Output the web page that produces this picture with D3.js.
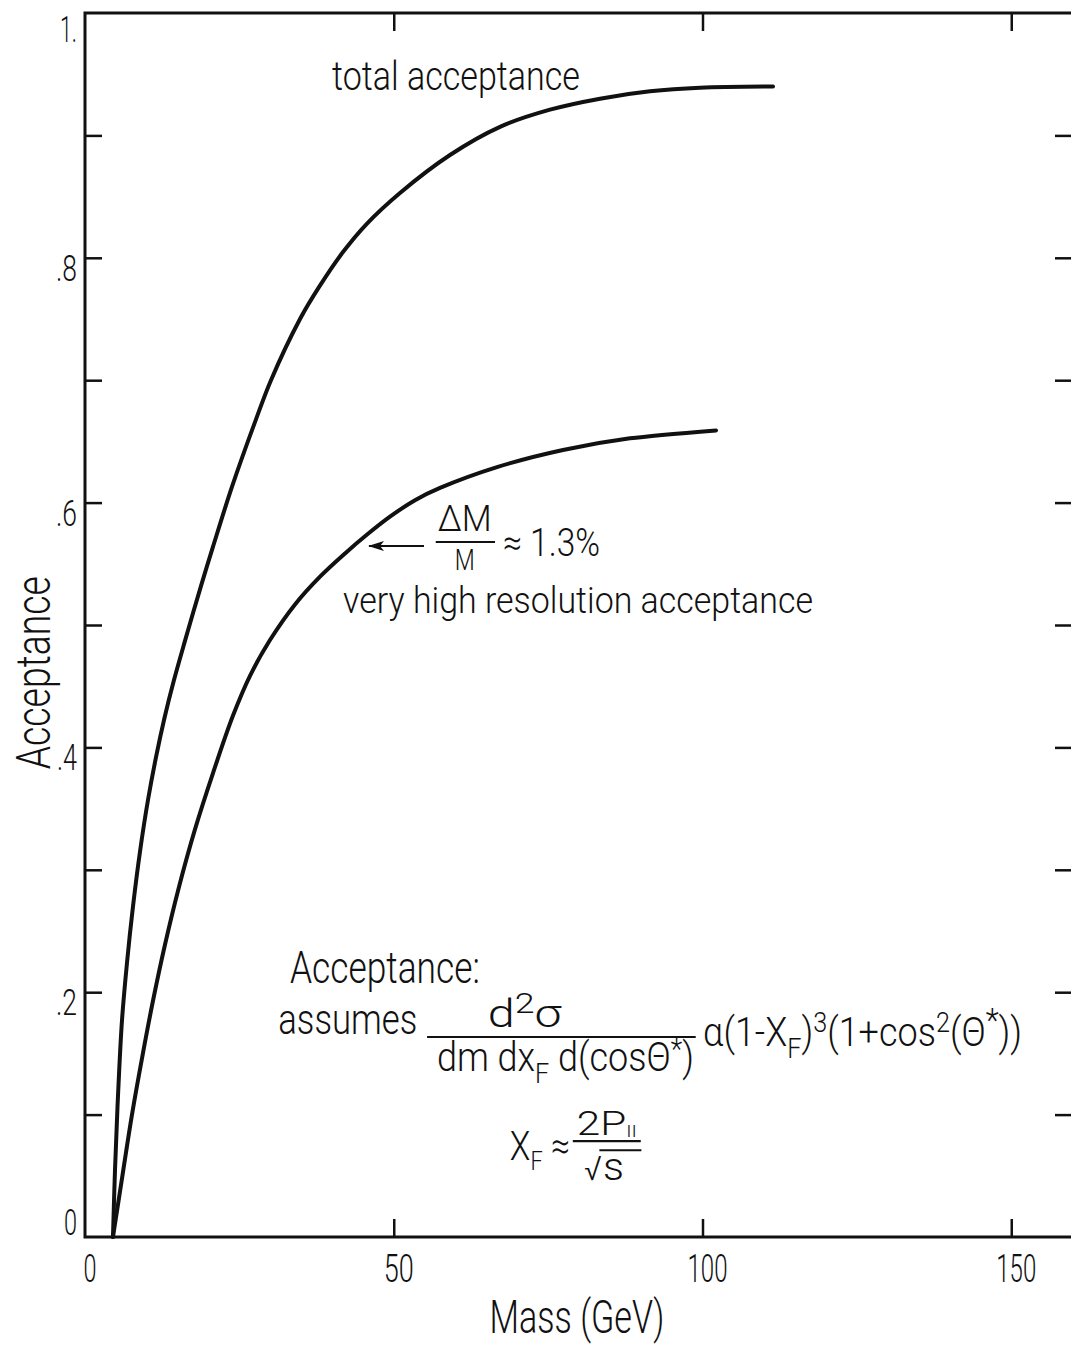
<!DOCTYPE html>
<html>
<head>
<meta charset="utf-8">
<script src="https://cdn.jsdelivr.net/npm/d3@7"></script>
<style>
  html, body { margin: 0; padding: 0; background: #fff; }
  svg { display: block; }
  text { font-family: Roboto, "DejaVu Sans", sans-serif; font-weight: 300; fill: #111; }
</style>
</head>
<body>
<svg id="chart" width="1071" height="1347"></svg>
<script>
// Total acceptance vs. dilepton mass
const totalMass = [4.53, 4.86, 5.34, 5.99, 6.80, 7.77, 8.91, 10.20, 11.50, 12.87, 14.41, 16.19, 18.79, 20.73,
  23.81, 27.69, 30.12, 34.82, 37.89, 41.78, 45.67, 51.01, 59.11, 67.21, 75.30, 83.40, 91.50, 99.60, 111.42];
const totalAcc = [0, 0.055, 0.115, 0.177, 0.224, 0.270, 0.315, 0.357, 0.392, 0.424, 0.455, 0.487, 0.532, 0.564,
  0.613, 0.668, 0.700, 0.750, 0.776, 0.8047, 0.828, 0.853, 0.884, 0.907, 0.921, 0.930, 0.936, 0.939, 0.940];

// Very high resolution (dM/M ~ 1.3%) acceptance
const hiresMass = [4.53, 6.15, 7.61, 9.23, 11.01, 12.96, 15.22, 17.81, 20.73, 23.97, 26.72, 29.96, 34.01, 38.06,
  42.11, 45.83, 49.39, 53.44, 57.49, 66.72, 77.41, 88.26, 102.19];
const hiresAcc = [0, 0.053, 0.100, 0.146, 0.193, 0.239, 0.286, 0.333, 0.379, 0.426, 0.4585, 0.4877, 0.5168, 0.5395,
  0.5585, 0.5745, 0.5885, 0.602, 0.612, 0.629, 0.643, 0.6525, 0.659];

// Axis ticks and labels
const xTickValues = [0, 50, 100, 150];
const xTickLabels = ["0", "50", "100", "150"];
const xInnerTicks = [50, 100, 150];
const yTickValues = [0, 0.2, 0.4, 0.6, 0.8, 1.0];
const yTickLabels = ["0", ".2", ".4", ".6", ".8", "1."];
const yInnerTicks = [0.1, 0.2, 0.3, 0.4, 0.5, 0.6, 0.7, 0.8, 0.9];

const xTitle = "Mass (GeV)";
const yTitle = "Acceptance";

const svg = d3.select("#chart");
const x = d3.scaleLinear().domain([0, 160]).range([85, 1073]);
const y = d3.scaleLinear().domain([0, 1]).range([1237, 13]);
const [x0, x1] = x.range();
const [y0, y1] = y.range();

// Squeeze a text group horizontally so that it spans the wanted width (narrow lettering)
function fitText(parent, px, py, width, build, opts = {}) {
  const g = parent.append("g");
  const t = g.append("text").attr("text-anchor", opts.anchor || "start")
    .style("font-size", (opts.size || 40) + "px");
  build(t);
  const w = t.node().getBBox().width;
  const k = width / w;
  const rot = opts.rotate ? ` rotate(${opts.rotate})` : "";
  g.attr("transform", `translate(${px},${py})${rot} scale(${k},1)`);
  return g;
}
const plain = s => t => t.text(s);

// Frame
svg.append("rect")
  .attr("x", x0).attr("y", y1).attr("width", x1 - x0).attr("height", y0 - y1)
  .attr("fill", "none").attr("stroke", "#111").attr("stroke-width", 3);

// Inward ticks on all four sides
const tickStyle = g => {
  g.select(".domain").remove();
  g.selectAll(".tick line").attr("stroke", "#111").attr("stroke-width", 2.5);
  g.selectAll(".tick text").remove();
};
svg.append("g").attr("transform", `translate(${x0},0)`)
  .call(d3.axisLeft(y).tickValues(yInnerTicks).tickSize(-17)).call(tickStyle);
svg.append("g").attr("transform", `translate(${x1},0)`)
  .call(d3.axisRight(y).tickValues(yInnerTicks).tickSize(-18)).call(tickStyle);
svg.append("g").attr("transform", `translate(0,${y0})`)
  .call(d3.axisBottom(x).tickValues(xInnerTicks).tickSize(-18)).call(tickStyle);
svg.append("g").attr("transform", `translate(0,${y1})`)
  .call(d3.axisTop(x).tickValues(xInnerTicks).tickSize(-18)).call(tickStyle);

// Tick labels
const xLabelWidth = {"0": 13, "50": 30, "100": 40, "150": 40};
xTickValues.forEach((v, i) => {
  fitText(svg, x(v) + 5, y0 + 45, xLabelWidth[xTickLabels[i]], plain(xTickLabels[i]),
    {anchor: "middle", size: 38});
});
const yLabelWidth = {"0": 13, ".2": 21, ".4": 20, ".6": 21, ".8": 21, "1.": 17};
yTickValues.forEach((v, i) => {
  const lab = yTickLabels[i];
  const dy = v === 0 ? -2 : (v === 1 ? 29 : 23);
  fitText(svg, x0 - 8, y(v) + dy, yLabelWidth[lab], plain(lab), {anchor: "end", size: 37});
});

// Axis titles
fitText(svg, 577, y0 + 96, 175, plain(xTitle), {anchor: "middle", size: 46});
fitText(svg, 50, y(0.461), 193, plain(yTitle), {anchor: "middle", size: 48, rotate: -90});

// Curves
const line = d3.line().x(d => x(d[0])).y(d => y(d[1])).curve(d3.curveCatmullRom.alpha(0.5));
const totalPts = d3.zip(totalMass, totalAcc);
const hiresPts = d3.zip(hiresMass, hiresAcc);
svg.append("path").datum(totalPts).attr("d", line)
  .attr("fill", "none").attr("stroke", "#111").attr("stroke-width", 4).attr("stroke-linecap", "round");
svg.append("path").datum(hiresPts).attr("d", line)
  .attr("fill", "none").attr("stroke", "#111").attr("stroke-width", 4).attr("stroke-linecap", "round");

// Curve labels
fitText(svg, x(40.0), y(0.937), 248, plain("total acceptance"), {size: 40});

// Resolution note with arrow pointing at the lower curve
svg.append("defs").append("marker")
  .attr("id", "arrowhead").attr("viewBox", "0 0 16 10").attr("refX", 15).attr("refY", 5)
  .attr("markerUnits", "userSpaceOnUse").attr("markerWidth", 16).attr("markerHeight", 10)
  .attr("orient", "auto")
  .append("path").attr("d", "M0,0 L16,5 L0,10 L4,5 Z").attr("fill", "#111");
svg.append("line")
  .attr("x1", x(54.9)).attr("y1", y(0.5645)).attr("x2", x(46.0)).attr("y2", y(0.5645))
  .attr("stroke", "#111").attr("stroke-width", 2).attr("marker-end", "url(#arrowhead)");
fitText(svg, x(61.5), y(0.577), 54, plain("ΔM"), {anchor: "middle", size: 37});
svg.append("line").attr("x1", x(56.8)).attr("x2", x(66.4)).attr("y1", y(0.5678)).attr("y2", y(0.5678))
  .attr("stroke", "#111").attr("stroke-width", 2.2);
fitText(svg, x(61.5), y(0.545), 20, plain("M"), {anchor: "middle", size: 30});
fitText(svg, x(67.7), y(0.556), 97, plain("≈ 1.3%"), {size: 38});
fitText(svg, x(41.8), y(0.510), 470, plain("very high resolution acceptance"), {size: 37});

// Cross-section assumption block
fitText(svg, x(33.2), y(0.2075), 190, plain("Acceptance:"), {size: 44});
fitText(svg, x(31.3), y(0.1658), 139, plain("assumes"), {size: 42});
fitText(svg, x(71.2), y(0.1716), 75, t => {
  t.append("tspan").text("d");
  t.append("tspan").attr("dy", -14).style("font-size", "28px").text("2");
  t.append("tspan").attr("dy", 14).text("σ");
}, {anchor: "middle", size: 38});
svg.append("line").attr("x1", x(55.4)).attr("x2", x(98.9)).attr("y1", y(0.1634)).attr("y2", y(0.1634))
  .attr("stroke", "#111").attr("stroke-width", 2.2);
fitText(svg, x(77.8), y(0.1356), 257, t => {
  t.append("tspan").text("dm dx");
  t.append("tspan").attr("dy", 12).style("font-size", "28px").text("F");
  t.append("tspan").attr("dy", -12).text(" d(cosΘ");
  t.append("tspan").attr("dy", -12).style("font-size", "30px").text("*");
  t.append("tspan").attr("dy", 12).text(")");
}, {anchor: "middle", size: 40});
fitText(svg, x(100.1), y(0.156), 319, t => {
  t.append("tspan").text("α(1-X");
  t.append("tspan").attr("dy", 12).style("font-size", "28px").text("F");
  t.append("tspan").attr("dy", -12).text(")");
  t.append("tspan").attr("dy", -14).style("font-size", "28px").text("3");
  t.append("tspan").attr("dy", 14).text("(1+cos");
  t.append("tspan").attr("dy", -14).style("font-size", "28px").text("2");
  t.append("tspan").attr("dy", 14).text("(Θ");
  t.append("tspan").attr("dy", -14).style("font-size", "34px").text("*");
  t.append("tspan").attr("dy", 14).text("))");
}, {size: 40});

// Feynman-x definition
fitText(svg, x(68.8), y(0.0629), 60, t => {
  t.append("tspan").text("X");
  t.append("tspan").attr("dy", 10).style("font-size", "26px").text("F");
  t.append("tspan").attr("dy", -10).text(" ≈");
}, {size: 40});
fitText(svg, x(84.5), y(0.0835), 60, t => {
  t.append("tspan").text("2P");
  t.append("tspan").attr("dy", 2).style("font-size", "16px").text("II");
}, {anchor: "middle", size: 34});
svg.append("line").attr("x1", x(79.0)).attr("x2", x(90.0)).attr("y1", y(0.0784)).attr("y2", y(0.0784))
  .attr("stroke", "#111").attr("stroke-width", 2.2);
fitText(svg, x(80.8), y(0.0466), 18, plain("√"), {size: 34});
fitText(svg, x(83.9), y(0.0466), 21, plain("s"), {size: 38});
svg.append("line").attr("x1", x(83.3)).attr("x2", x(90.1)).attr("y1", y(0.0708)).attr("y2", y(0.0708))
  .attr("stroke", "#111").attr("stroke-width", 2);
</script>
</body>
</html>
